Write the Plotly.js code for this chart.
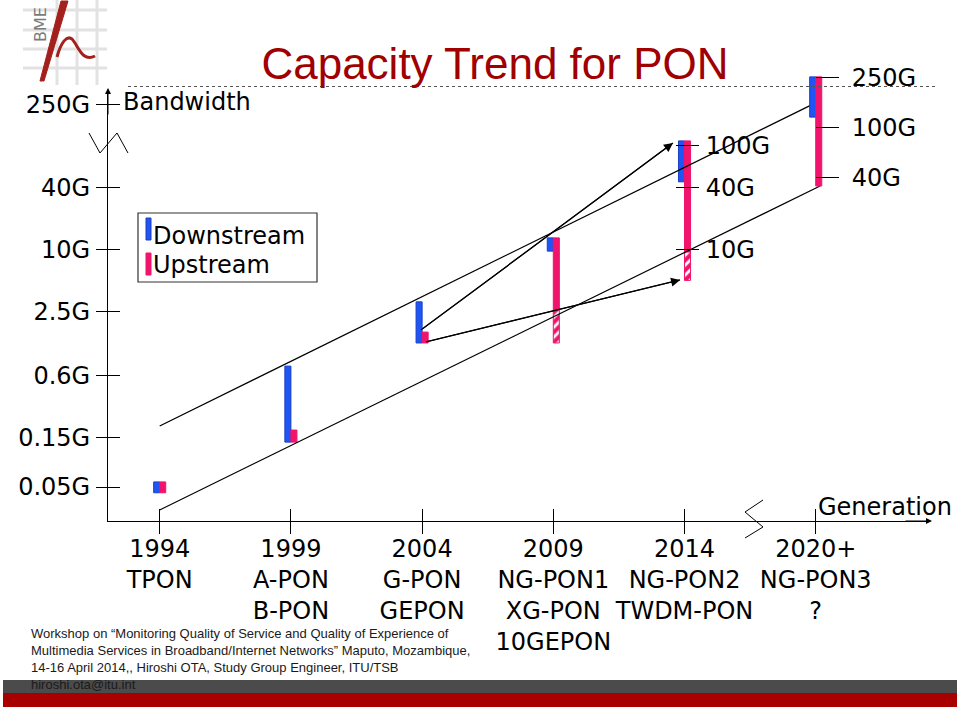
<!DOCTYPE html>
<html><head><meta charset="utf-8">
<script src="https://cdn.plot.ly/plotly-3.0.1.min.js"></script>
<style>html,body{margin:0;padding:0;background:#fff}#chart{width:960px;height:711px}</style>
</head><body><div id="chart"></div><script>
// ---------- data (bandwidth in Gbit/s) ----------
const generations = ['1994<br>TPON','1999<br>A-PON<br>B-PON','2004<br>G-PON<br>GEPON',
  '2009<br>NG-PON1<br>XG-PON<br>10GEPON','2014<br>NG-PON2<br>TWDM-PON','2020+<br>NG-PON3<br>?'];
const genIndex = [0,1,2,3,4,5];
const barGen = [0,1,2,3,4];
const downBase = [0.044, 0.136, 1.24, 9.6, 45];
const downTop  = [0.056, 0.74, 3.1, 12.9, 112];
const upBase   = [0.044, 0.136, 1.24, 2.58, 9.4];
const upTop    = [0.056, 0.178, 1.58, 12.9, 112];
const optGen   = [3,4];
const upOptBase = [1.24, 5.0];
const upOptTop  = [2.58, 9.4];
const pon3Gen = [5];
const pon3DownBase = [122];
const pon3DownTop  = [255];
const pon3UpBase   = [34.5];
const pon3UpTop    = [255];
const yTickVals = [0.05,0.15,0.6,2.5,10,40,250];
const yTickText = ['0.05G','0.15G','0.6G','2.5G','10G','40G','250G'];
const pon2TickVals = [10,40,100];
const pon2TickText = ['10G','40G','100G'];
const pon3TickVals = [40,100,250];
const pon3TickText = ['40G','100G','250G'];
const upperTrendX = [0.0, 4.995];
const upperTrendY = [0.195, 260];
const lowerTrendX = [0.0, 5.033];
const lowerTrendY = [0.030, 41];
const arrow1X = [1.992, 3.912];
const arrow1Y = [1.66, 107];
const arrow2X = [2.030, 3.966];
const arrow2Y = [1.27, 5.05];

// ---------- styling ----------
const BLUE='#1f55f5', BLUE_LINE='#1a3fc4', PINK='#f0146c';
const L=108, T=60, W=822, H=461;
const px = x => (x-L)/W;
const py = y => (T+H-y)/H;
function pathPx(s){ let i=0; return s.replace(/-?\d+(\.\d+)?/g, m => { const v=parseFloat(m); const o=(i%2===0)?px(v):py(v); i++; return o.toFixed(5); }); }
const sub = (a,b) => a.map((v,i)=>v-b[i]);
const BW = 0.046;

const traces = [
  {type:'bar', x:barGen, base:downBase, y:sub(downTop,downBase), width:BW, offset:-BW,
   marker:{color:BLUE, line:{color:BLUE_LINE, width:1}}, hoverinfo:'skip'},
  {type:'bar', x:barGen, base:upBase, y:sub(upTop,upBase), width:BW, offset:0,
   marker:{color:PINK, line:{color:PINK, width:1}}, hoverinfo:'skip'},
  {type:'bar', x:optGen, base:upOptBase, y:sub(upOptTop,upOptBase), width:BW, offset:0,
   marker:{color:PINK, line:{color:PINK, width:1},
     pattern:{shape:'/', fgcolor:'#ffffff', bgcolor:PINK, size:7, solidity:0.4}}, hoverinfo:'skip'},
  {type:'bar', x:pon3Gen, base:pon3DownBase, y:sub(pon3DownTop,pon3DownBase), width:BW, offset:-BW,
   yaxis:'y2', marker:{color:BLUE, line:{color:BLUE_LINE, width:1}}, hoverinfo:'skip'},
  {type:'bar', x:pon3Gen, base:pon3UpBase, y:sub(pon3UpTop,pon3UpBase), width:BW, offset:0,
   yaxis:'y2', marker:{color:PINK, line:{color:PINK, width:1}}, hoverinfo:'skip'},
  {type:'scatter', mode:'lines', x:upperTrendX, y:upperTrendY, line:{color:'#000', width:1.2}, hoverinfo:'skip'},
  {type:'scatter', mode:'lines', x:lowerTrendX, y:lowerTrendY, line:{color:'#000', width:1.2}, hoverinfo:'skip'},
  {type:'scatter', mode:'lines', x:arrow1X, y:arrow1Y, line:{color:'#000', width:1.2}, hoverinfo:'skip'},
  {type:'scatter', mode:'lines', x:arrow2X, y:arrow2Y, line:{color:'#000', width:1.2}, hoverinfo:'skip'},
  {type:'scatter', x:[], y:[], xaxis:'x2', yaxis:'y', hoverinfo:'skip'},
  {type:'scatter', x:[], y:[], xaxis:'x3', yaxis:'y', hoverinfo:'skip'},
  {type:'scatter', x:[], y:[], yaxis:'y3', hoverinfo:'skip'},
  {type:'scatter', x:[], y:[], yaxis:'y4', hoverinfo:'skip'}
];

const yRange = [-1.630, 2.542];
const xRange = [-0.394, 5.871];
const tickFont = {family:'DejaVu Sans', size:24, color:'#000'};

const shapes = [];
// footer bands
shapes.push({type:'rect', xref:'paper', yref:'paper', x0:px(3), x1:px(957), y0:py(693), y1:py(680), fillcolor:'#4b4b4b', line:{width:0}, layer:'below'});
shapes.push({type:'rect', xref:'paper', yref:'paper', x0:px(3), x1:px(957), y0:py(707), y1:py(693), fillcolor:'#a80000', line:{width:0}, layer:'below'});
// dotted title rule
shapes.push({type:'line', xref:'paper', yref:'paper', x0:px(128), x1:px(938), y0:py(86.5), y1:py(86.5), line:{color:'#555', width:1, dash:'dot'}});
// axis breaks
shapes.push({type:'path', xref:'paper', yref:'paper', path:pathPx('M 89 133 L 100 153 L 117 133 L 128 153'), line:{color:'#000', width:1}});
shapes.push({type:'path', xref:'paper', yref:'paper', path:pathPx('M 763 500 L 745 512 L 763 527 L 745 538'), line:{color:'#000', width:1}});
// legend box
shapes.push({type:'rect', xref:'paper', yref:'paper', x0:px(138), x1:px(317), y0:py(282), y1:py(213), line:{color:'#333', width:1.2}, fillcolor:'rgba(0,0,0,0)'});
shapes.push({type:'rect', xref:'paper', yref:'paper', x0:px(146), x1:px(151), y0:py(240), y1:py(218), fillcolor:BLUE, line:{color:BLUE_LINE, width:1}});
shapes.push({type:'rect', xref:'paper', yref:'paper', x0:px(146), x1:px(151), y0:py(275), y1:py(253), fillcolor:PINK, line:{color:PINK, width:1}});
// logo grid
[10,30,49,68].forEach(y => shapes.push({type:'line', xref:'paper', yref:'paper', x0:px(23), x1:px(107), y0:py(y), y1:py(y), line:{color:'#e2e2e2', width:3}, layer:'below'}));
[57,77,97].forEach(x => shapes.push({type:'line', xref:'paper', yref:'paper', x0:px(x), x1:px(x), y0:py(0), y1:py(85), line:{color:'#e2e2e2', width:3}, layer:'below'}));
// logo swoosh
shapes.push({type:'path', xref:'paper', yref:'paper', path:pathPx('M 40 81 L 61 1 L 68 1 L 44 81 Z'), fillcolor:'#a3201c', line:{color:'#a3201c', width:1}});
shapes.push({type:'path', xref:'paper', yref:'paper', path:pathPx('M 57 57 C 61 42 67 35 72 39 C 78 45 82 63 95 56'), line:{color:'#a3201c', width:3}});

// arrowheads on the two "migration" arrows (annotations on a log axis take log10 positions)
function arrowHead(xs, ys){
  return {xref:'x', yref:'y', axref:'x', ayref:'y', x:xs[1], y:Math.log10(ys[1]), ax:xs[0], ay:Math.log10(ys[0]),
    text:'', showarrow:true, arrowhead:2, arrowsize:1.5, arrowwidth:1.2, arrowcolor:'#000', standoff:0};
}

const annotations = [
  arrowHead(arrow1X, arrow1Y),
  arrowHead(arrow2X, arrow2Y),
  {xref:'paper', yref:'paper', x:px(121), y:py(102), xanchor:'left', yanchor:'middle', text:'Bandwidth', showarrow:false, font:tickFont},
  {xref:'paper', yref:'paper', x:px(816), y:py(507), xanchor:'left', yanchor:'middle', text:'Generation', showarrow:false, font:tickFont},
  {xref:'paper', yref:'paper', x:px(151), y:py(236), xanchor:'left', yanchor:'middle', text:'Downstream', showarrow:false, font:tickFont},
  {xref:'paper', yref:'paper', x:px(151), y:py(265), xanchor:'left', yanchor:'middle', text:'Upstream', showarrow:false, font:tickFont},
  {xref:'paper', yref:'paper', x:px(40), y:py(25), xanchor:'center', yanchor:'middle', text:'BME', textangle:-90, showarrow:false,
   font:{family:'DejaVu Sans', size:16, color:'#7a7a7a'}},
  {xref:'paper', yref:'paper', x:px(29), y:py(624), xanchor:'left', yanchor:'top', align:'left', showarrow:false,
   text:'Workshop on “Monitoring Quality of Service and Quality of Experience of<br>Multimedia Services in Broadband/Internet Networks” Maputo, Mozambique,<br>14-16 April 2014,, Hiroshi OTA, Study Group Engineer, ITU/TSB<br>hiroshi.ota@itu.int',
   font:{family:'Liberation Sans', size:13, color:'#1a1a1a'}},
  {xref:'paper', yref:'paper', x:0, y:py(88), ax:0, ay:28, text:'', showarrow:true, arrowhead:2, arrowsize:1.2, arrowwidth:1, arrowcolor:'#000', standoff:0},
  {xref:'paper', yref:'paper', x:px(932), y:0, ax:-28, ay:0, text:'', showarrow:true, arrowhead:2, arrowsize:1.2, arrowwidth:1, arrowcolor:'#000', standoff:0}
];

const layout = {
  width:960, height:711,
  margin:{l:L, r:960-L-W, t:T, b:711-T-H, pad:0},
  paper_bgcolor:'#fff', plot_bgcolor:'rgba(0,0,0,0)',
  showlegend:false, font:{family:'DejaVu Sans', color:'#000'},
  title:{text:'Capacity Trend for PON', xref:'container', yref:'container', x:0.5156, xanchor:'center', y:0.910, yanchor:'middle',
    font:{family:'Liberation Sans', size:44, color:'#a00000'}},
  xaxis:{range:xRange, tickmode:'array', tickvals:genIndex, ticktext:generations, ticks:'outside', ticklen:6, tickwidth:1, tickcolor:'#000',
    showline:true, linecolor:'#000', linewidth:1, showgrid:false, zeroline:false,
    tickfont:{family:'DejaVu Sans', size:24, color:'#000'}, anchor:'y', fixedrange:true},
  xaxis2:{range:xRange, overlaying:'x', anchor:'y', side:'bottom', tickmode:'array', tickvals:genIndex, ticks:'inside', ticklen:12, tickwidth:1, tickcolor:'#000',
    showticklabels:false, showline:false, showgrid:false, zeroline:false},
  xaxis3:{range:xRange, overlaying:'x', anchor:'y', side:'bottom', tickmode:'array', tickvals:genIndex, ticks:'outside', ticklen:12, tickwidth:1, tickcolor:'#000',
    showticklabels:false, showline:false, showgrid:false, zeroline:false},
  yaxis:{type:'log', range:yRange, domain:[0, 431/461], anchor:'x', tickmode:'array', tickvals:yTickVals, ticktext:yTickText,
    ticks:'outside', ticklen:11, tickwidth:1, tickcolor:'#000', showline:true, linecolor:'#000', linewidth:1, showgrid:false, zeroline:false,
    tickfont:tickFont, ticklabelstandoff:1},
  yaxis4:{type:'log', range:yRange, overlaying:'y', anchor:'x', side:'left', tickmode:'array', tickvals:yTickVals, ticks:'inside', ticklen:12,
    tickwidth:1, tickcolor:'#000', showticklabels:false, showline:false, showgrid:false, zeroline:false},
  yaxis3:{type:'log', range:yRange, overlaying:'y', anchor:'free', position:px(675), side:'right', tickmode:'array', tickvals:pon2TickVals, ticktext:pon2TickText,
    ticks:'outside', ticklen:23, tickwidth:1, tickcolor:'#000', showline:false, showgrid:false, zeroline:false, tickfont:tickFont, ticklabelstandoff:2},
  yaxis2:{type:'log', range:[-1.129, 2.541], domain:[0,1], anchor:'free', position:px(815), side:'right', tickmode:'array', tickvals:pon3TickVals, ticktext:pon3TickText,
    ticks:'outside', ticklen:23, tickwidth:1, tickcolor:'#000', showline:false, showgrid:false, zeroline:false, tickfont:tickFont, ticklabelstandoff:8},
  shapes:shapes, annotations:annotations
};

Plotly.newPlot('chart', traces, layout, {displayModeBar:false, staticPlot:true});
</script></body></html>
